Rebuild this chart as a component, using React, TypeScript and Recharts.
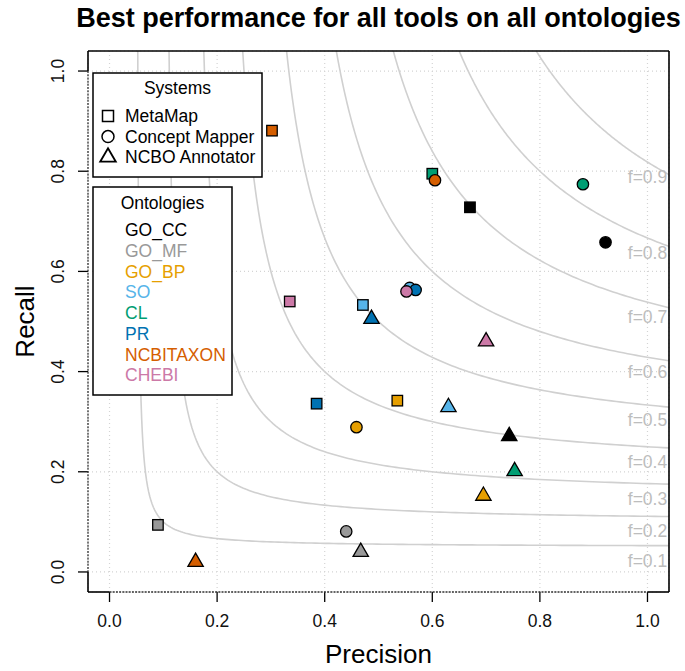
import React from 'react';
import { ComposedChart, XAxis, YAxis, CartesianGrid, Scatter, Line } from 'recharts';

// ---- data ----
const ontologies = ['GO_CC', 'GO_MF', 'GO_BP', 'SO', 'CL', 'PR', 'NCBITAXON', 'CHEBI'];
const ontologyColors = ['#000000', '#999999', '#E69F00', '#56B4E9', '#009E73', '#0072B2', '#D55E00', '#CC79A7'];
const systems = ['MetaMap', 'Concept Mapper', 'NCBO Annotator'];

const metaMapPrecision = [0.670, 0.090, 0.535, 0.471, 0.600, 0.385, 0.302, 0.335];
const metaMapRecall = [0.728, 0.094, 0.342, 0.533, 0.795, 0.336, 0.881, 0.540];
const conceptMapperPrecision = [0.922, 0.440, 0.459, 0.558, 0.880, 0.569, 0.605, 0.552];
const conceptMapperRecall = [0.658, 0.081, 0.289, 0.567, 0.774, 0.563, 0.782, 0.560];
const ncboPrecision = [0.743, 0.467, 0.695, 0.630, 0.753, 0.487, 0.160, 0.700];
const ncboRecall = [0.271, 0.040, 0.152, 0.329, 0.201, 0.505, 0.020, 0.460];

const fLevels = [0.1, 0.2, 0.3, 0.4, 0.5, 0.6, 0.7, 0.8, 0.9];
const axisTicks = [0, 0.2, 0.4, 0.6, 0.8, 1.0];
const axisDomain = [-0.04, 1.04];

const FONT = '"Liberation Sans", Arial, Helvetica, sans-serif';

const buildPoints = (prec: number[], rec: number[]) =>
  ontologies.map((o, i) => ({ p: prec[i], r: rec[i], name: o, color: ontologyColors[i] }));

const metaMapData = buildPoints(metaMapPrecision, metaMapRecall);
const conceptMapperData = buildPoints(conceptMapperPrecision, conceptMapperRecall);
const ncboData = buildPoints(ncboPrecision, ncboRecall);

// iso-F-measure reference curves: F = 2PR/(P+R)  =>  R = F*P/(2P - F)
const isoCurve = (f: number) => {
  const hi = axisDomain[1];
  const p0 = (hi * f) / (2 * hi - f);
  const pts: { p: number; r: number }[] = [];
  const n = 140;
  for (let k = 0; k <= n; k++) {
    const t = k / n;
    const p = p0 + (hi - p0) * t * t;
    pts.push({ p, r: (f * p) / (2 * p - f) });
  }
  return pts;
};
const isoLabels = fLevels.map((f) => ({ p: 1, r: f / (2 - f), label: `f=${f.toFixed(1)}` }));

// ---- layout ----
const W = 685;
const H = 671;
const PL = 88;
const PR = 669;
const PT = 51;
const PB = 592;

const TRC0 = 1.5551;
const TRC1 = 1.3468;
const TRC2 = 0.7776;

const markerShape = (kind: string, filled: boolean) => (props: any) => {
  const { cx, cy, payload } = props;
  const fill = filled ? payload.color : 'none';
  const sw = 1.3;
  if (kind === 'square') {
    const s = 10.5;
    return <rect x={cx - s / 2} y={cy - s / 2} width={s} height={s} fill={fill} stroke="#000" strokeWidth={sw} />;
  }
  if (kind === 'circle') {
    return <circle cx={cx} cy={cy} r={5.7} fill={fill} stroke="#000" strokeWidth={sw} />;
  }
  const xc = 5.7;
  const pts = `${cx},${cy - TRC0 * xc} ${cx + TRC1 * xc},${cy + TRC2 * xc} ${cx - TRC1 * xc},${cy + TRC2 * xc}`;
  return <polygon points={pts} fill={fill} stroke="#000" strokeWidth={sw} strokeLinejoin="miter" />;
};

const isoLabelShape = (props: any) => {
  const { cx, cy, payload } = props;
  return (
    <text x={cx} y={cy + 15} textAnchor="middle" dominantBaseline="central" fontSize={17.5} fill="#bdbdbd" fontFamily={FONT}>
      {payload.label}
    </text>
  );
};

const XTick = (props: any) => {
  const { x, payload } = props;
  return (
    <g>
      <line x1={x} x2={x} y1={PB} y2={PB + 10} stroke="#000" strokeWidth={1.3} />
      <text x={x} y={PB + 29} textAnchor="middle" dominantBaseline="central" fontSize={17.5} fill="#111" fontFamily={FONT}>
        {Number(payload.value).toFixed(1)}
      </text>
    </g>
  );
};

const YTick = (props: any) => {
  const { y, payload } = props;
  const tx = PL - 30;
  return (
    <g>
      <line x1={PL - 10} x2={PL} y1={y} y2={y} stroke="#000" strokeWidth={1.3} />
      <text
        x={tx}
        y={y}
        textAnchor="middle"
        dominantBaseline="central"
        fontSize={17.5}
        fill="#111"
        fontFamily={FONT}
        transform={`rotate(-90 ${tx} ${y})`}
      >
        {Number(payload.value).toFixed(1)}
      </text>
    </g>
  );
};

const LegendSymbol = ({ kind, x, y }: { kind: string; x: number; y: number }) => {
  if (kind === 'square') return <rect x={x - 5.5} y={y - 5.5} width={11} height={11} fill="none" stroke="#000" strokeWidth={1.5} />;
  if (kind === 'circle') return <circle cx={x} cy={y} r={6} fill="none" stroke="#000" strokeWidth={1.5} />;
  const xc = 5.8;
  return (
    <polygon
      points={`${x},${y - TRC0 * xc} ${x + TRC1 * xc},${y + TRC2 * xc} ${x - TRC1 * xc},${y + TRC2 * xc}`}
      fill="none"
      stroke="#000"
      strokeWidth={1.8}
    />
  );
};

const systemKinds = ['square', 'circle', 'triangle'];

export default function App() {
  const y0 = PB - 0.04 * ((PB - PT) / 1.08); // value 0
  const y1 = PT + 0.04 * ((PB - PT) / 1.08); // value 1
  const x0 = PL + 0.04 * ((PR - PL) / 1.08);
  const x1 = PR - 0.04 * ((PR - PL) / 1.08);
  return (
    <div style={{ position: 'absolute', left: 0, top: 0, width: W, height: H, background: '#fff', fontFamily: FONT }}>
      <ComposedChart width={W} height={H} margin={{ top: PT, right: W - PR, bottom: 0, left: 0 }}>
        <CartesianGrid stroke="#d4d4d4" strokeDasharray="1 3" strokeWidth={1.2} />
        <XAxis
          type="number"
          dataKey="p"
          domain={axisDomain}
          ticks={axisTicks}
          allowDataOverflow
          height={H - PB}
          axisLine={false}
          tickLine={false}
          tick={<XTick />}
          interval={0}
        />
        <YAxis
          type="number"
          dataKey="r"
          domain={axisDomain}
          ticks={axisTicks}
          allowDataOverflow
          width={PL}
          axisLine={false}
          tickLine={false}
          tick={<YTick />}
          interval={0}
        />
        {fLevels.map((f) => (
          <Line
            key={`iso-${f}`}
            data={isoCurve(f)}
            dataKey="r"
            type="linear"
            stroke="#d0d0d0"
            strokeWidth={1.6}
            dot={false}
            activeDot={false}
            isAnimationActive={false}
          />
        ))}
        <Scatter data={isoLabels} dataKey="r" shape={isoLabelShape} isAnimationActive={false} />
        <Scatter data={metaMapData} dataKey="r" shape={markerShape('square', true)} isAnimationActive={false} />
        <Scatter data={conceptMapperData} dataKey="r" shape={markerShape('circle', true)} isAnimationActive={false} />
        <Scatter data={ncboData} dataKey="r" shape={markerShape('triangle', true)} isAnimationActive={false} />
      </ComposedChart>
      <svg width={W} height={H} style={{ position: 'absolute', left: 0, top: 0, pointerEvents: 'none' }}>
        {/* frame */}
        <line x1={PL} x2={PR} y1={PT} y2={PT} stroke="#000" strokeWidth={1.6} />
        <line x1={PR} x2={PR} y1={PT} y2={PB} stroke="#000" strokeWidth={1.6} />
        <line x1={PL} x2={PL} y1={PT} y2={y1} stroke="#000" strokeWidth={1.6} />
        <line x1={PL} x2={PL} y1={y0} y2={PB} stroke="#000" strokeWidth={1.6} />
        <line x1={PL} x2={PL} y1={y1} y2={y0} stroke="#333" strokeWidth={1.3} strokeDasharray="2 1.2" />
        <line x1={PL} x2={x0} y1={PB} y2={PB} stroke="#000" strokeWidth={1.6} />
        <line x1={x1} x2={PR} y1={PB} y2={PB} stroke="#000" strokeWidth={1.6} />
        <line x1={x0} x2={x1} y1={PB} y2={PB} stroke="#333" strokeWidth={1.3} strokeDasharray="2 1.2" />

        {/* titles */}
        <text x={(PL + PR) / 2} y={27} textAnchor="middle" fontSize={27} fontWeight="bold" fill="#000" fontFamily={FONT}>
          Best performance for all tools on all ontologies
        </text>
        <text x={(PL + PR) / 2} y={663} textAnchor="middle" fontSize={26} fill="#000" fontFamily={FONT}>
          Precision
        </text>
        <text
          x={25}
          y={(PT + PB) / 2}
          textAnchor="middle"
          dominantBaseline="central"
          fontSize={26}
          fill="#000"
          fontFamily={FONT}
          transform={`rotate(-90 25 ${(PT + PB) / 2})`}
        >
          Recall
        </text>

        {/* Systems legend */}
        <rect x={93} y={73} width={169} height={104} fill="#fff" stroke="#000" strokeWidth={1.5} />
        <text x={177.5} y={88} textAnchor="middle" dominantBaseline="central" fontSize={17.5} fill="#000" fontFamily={FONT}>
          Systems
        </text>
        {systems.map((s, i) => (
          <g key={s}>
            <LegendSymbol kind={systemKinds[i]} x={108} y={116 + i * 20.6} />
            <text x={125} y={116 + i * 20.6} dominantBaseline="central" fontSize={17.5} fill="#000" fontFamily={FONT}>
              {s}
            </text>
          </g>
        ))}

        {/* Ontologies legend */}
        <rect x={93} y={187} width={139} height={208} fill="#fff" stroke="#000" strokeWidth={1.5} />
        <text x={162.5} y={203} textAnchor="middle" dominantBaseline="central" fontSize={17.5} fill="#000" fontFamily={FONT}>
          Ontologies
        </text>
        {ontologies.map((o, i) => (
          <text
            key={o}
            x={125}
            y={230 + i * 20.75}
            dominantBaseline="central"
            fontSize={17.5}
            fill={ontologyColors[i]}
            fontFamily={FONT}
          >
            {o}
          </text>
        ))}
      </svg>
    </div>
  );
}
